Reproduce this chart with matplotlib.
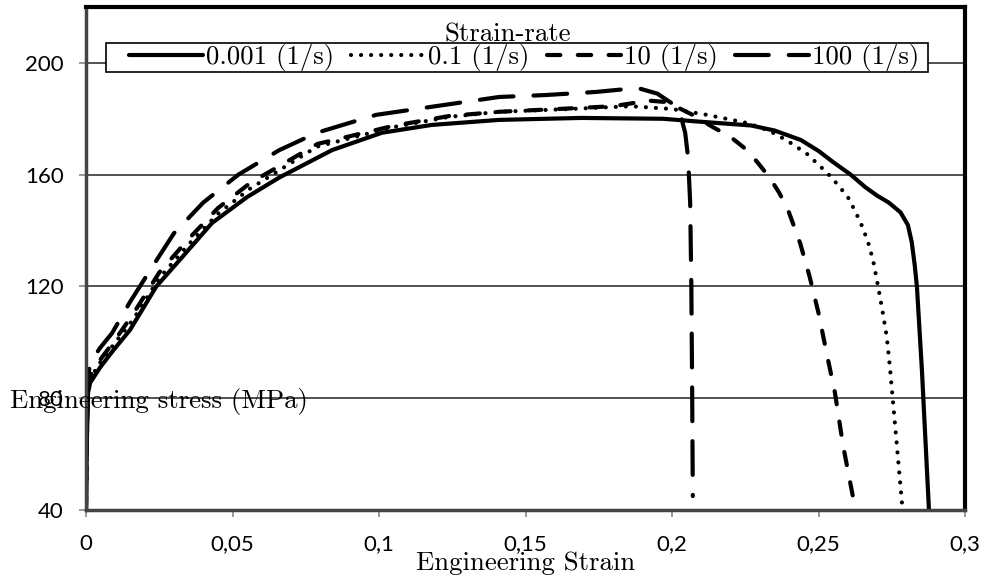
import numpy as np
import matplotlib
matplotlib.use('Agg')
import matplotlib.pyplot as plt
from matplotlib.patches import Rectangle

# curves (engineering strain, engineering stress in MPa)
strain_0001 = [0, 0.0003, 0.0007, 0.0014, 0.0048, 0.0092, 0.015, 0.024, 0.032, 0.043,
               0.055, 0.066, 0.084, 0.101, 0.118, 0.141, 0.169, 0.197, 0.209, 0.218,
               0.227, 0.235, 0.244, 0.25, 0.255, 0.261, 0.266, 0.270, 0.274, 0.278,
               0.2805, 0.2818, 0.2828, 0.2836, 0.2853, 0.2877]
stress_0001 = [40, 65, 82, 85.5, 91, 97, 104.4, 120, 129.5, 142.7,
               152, 159, 168.8, 175, 177.8, 179.6, 180.3, 180, 179, 178.3,
               177.6, 175.8, 172.4, 168.5, 164.5, 160, 155.5, 152.5, 150, 146.5,
               142, 136, 128, 119.8, 90, 40]

strain_01 = [0, 0.0003, 0.0007, 0.0014, 0.005, 0.01, 0.016, 0.025, 0.035, 0.045,
             0.056, 0.0788, 0.1048, 0.124, 0.141, 0.165, 0.186, 0.2, 0.212, 0.2256,
             0.233, 0.239, 0.246, 0.253, 0.2565, 0.26, 0.2625, 0.265, 0.267, 0.2686,
             0.2698, 0.271, 0.2722, 0.2733, 0.2744, 0.2765, 0.2787]
stress_01 = [40, 65, 83, 87, 93, 100, 108, 123, 135, 146,
             155, 170, 177, 180.7, 182.5, 183.5, 184.5, 183.5, 181.4, 178.5,
             175.8, 172.4, 167.5, 160.6, 156.5, 152, 147, 141.3, 135.5, 129.5,
             123, 116.2, 109, 102, 90.8, 66, 40]

strain_10 = [0, 0.0003, 0.0007, 0.0014, 0.005, 0.01, 0.016, 0.025, 0.035, 0.045,
             0.056, 0.079, 0.105, 0.124, 0.141, 0.165, 0.18, 0.192, 0.198, 0.204,
             0.207, 0.214, 0.22, 0.2256, 0.2295, 0.2334, 0.2366, 0.2396, 0.2437, 0.247,
             0.25, 0.2529, 0.2556, 0.2584, 0.2618]
stress_10 = [40, 66, 84, 88, 94, 101, 110, 125, 137, 148,
             157, 171, 177.5, 181, 182.5, 183.7, 184.5, 186.5, 186, 183,
             181.4, 177, 173.5, 168.8, 164, 158.8, 153.5, 147.4, 135.6, 123.4,
             110.5, 95.5, 82, 63, 44.5]

strain_100 = [0, 0.0003, 0.0008, 0.0014, 0.0048, 0.0089, 0.015, 0.022, 0.03, 0.04,
              0.052, 0.066, 0.0788, 0.099, 0.118, 0.141, 0.157, 0.174, 0.183, 0.189,
              0.195, 0.2, 0.203, 0.2045, 0.2055, 0.2062, 0.2066, 0.2069, 0.2071]
stress_100 = [40, 70, 88, 92.6, 98, 103.3, 114.4, 126, 139, 150,
              160, 168.8, 175, 181.4, 184.3, 187.8, 188.5, 189.6, 190.5, 190.8,
              189, 185.5, 181, 175, 166, 150, 120, 80, 45]

rate_labels = ['0.001 (1/s)', '0.1 (1/s)', '10 (1/s)', '100 (1/s)']
x_ticks = [0, 0.05, 0.1, 0.15, 0.2, 0.25, 0.3]
x_ticklabels = ['0', '0,05', '0,1', '0,15', '0,2', '0,25', '0,3']
y_ticks = [40, 80, 120, 160, 200]

plt.rcParams['font.family'] = ['Lato', 'DejaVu Sans']

W, H = 983, 581
fig = plt.figure(figsize=(W/100, H/100), dpi=100)
ax = fig.add_axes([86/W, 1-510/H, (965-86)/W, (510-7)/H])

lw = 3
ax.plot(strain_0001, stress_0001, color='black', lw=lw, solid_capstyle='round',
        solid_joinstyle='round', label=rate_labels[0])
ax.plot(strain_01, stress_01, color='black', lw=lw, linestyle=(0, (0.01, 2.4)),
        dash_capstyle='round', label=rate_labels[1])
ax.plot(strain_10, stress_10, color='black', lw=lw, linestyle=(0, (3.2, 4.2)),
        dash_capstyle='round', label=rate_labels[2])
ax.plot(strain_100, stress_100, color='black', lw=lw, linestyle=(0, (8.1, 4.8)),
        dash_capstyle='round', label=rate_labels[3])

ax.set_xlim(0, 0.3)
ax.set_ylim(40, 220)
ax.set_xticks(x_ticks)
ax.set_xticklabels(x_ticklabels)
ax.set_yticks(y_ticks)
ax.yaxis.grid(True, color='#333333', lw=1.2)
ax.set_axisbelow(True)

for side in ['top', 'right']:
  ax.spines[side].set_linewidth(3)
  ax.spines[side].set_color('black')
for side in ['left', 'bottom']:
  ax.spines[side].set_linewidth(2.5)
  ax.spines[side].set_color('#444444')

ax.tick_params(axis='both', direction='out', length=5, width=1.2, color='#888888',
               labelsize=16)
ax.tick_params(axis='x', pad=12)
ax.tick_params(axis='y', pad=11)

# legend box is drawn by hand so it can be tighter vertically than horizontally
ax.add_patch(Rectangle((106/W, 1-72/H), (928-106)/W, 29/H, transform=fig.transFigure,
                       facecolor='white', edgecolor='black', lw=1.2, zorder=4,
                       clip_on=False))
leg = ax.legend(loc='center', bbox_to_anchor=(0.4983, 0.8996), ncol=4,
                frameon=False, borderpad=0, handlelength=2.77, handletextpad=0.1,
                columnspacing=0.65, borderaxespad=0,
                prop={'family': 'cmr10', 'size': 19.3})
leg.set_zorder(5)

fig.text(508/W, 1-41/H, 'Strain-rate', family='cmr10', fontsize=19.3,
         ha='center', va='baseline')
fig.text(10/W, 1-408/H, 'Engineering stress (MPa)', family='cmr10', fontsize=19.3,
         ha='left', va='baseline')
fig.text(526/W, 1-570/H, 'Engineering Strain', family='cmr10', fontsize=19.3,
         ha='center', va='baseline')

fig.savefig('out.png', dpi=100)
